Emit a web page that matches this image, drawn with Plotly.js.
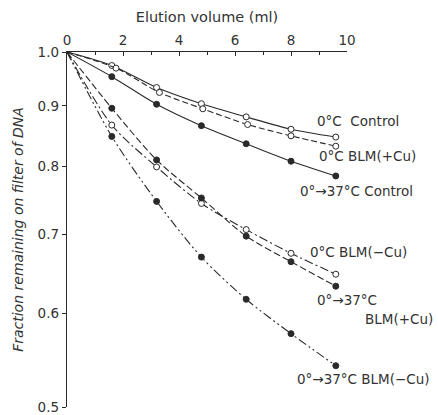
<!DOCTYPE html>
<html>
<head>
<meta charset="utf-8">
<script src="https://cdn.plot.ly/plotly-3.0.1.min.js"></script>
<style>html,body{margin:0;padding:0;background:#fff;}#chart{width:438px;height:415px;}</style>
</head>
<body>
<div id="chart"></div>
<script>
// Elution volumes (ml) at which fractions were measured
const volumes = [1.6, 3.2, 4.8, 6.4, 8.0, 9.6];
// Slightly offset positions for open circles of 0°C BLM(+Cu)
const volumesBLMCu0 = [1.75, 3.3, 4.85, 6.45, 8.0, 9.6];

// Fraction remaining on filter of DNA
const ctrl0      = [0.974, 0.933, 0.904, 0.881, 0.860, 0.847];
const blmCu0     = [0.969, 0.924, 0.895, 0.868, 0.849, 0.832];
const ctrl37     = [0.953, 0.903, 0.866, 0.836, 0.808, 0.785];
const blmNoCu0   = [0.867, 0.799, 0.744, 0.707, 0.675, 0.648];
const blmCu37    = [0.896, 0.810, 0.752, 0.698, 0.664, 0.633];
const blmNoCu37  = [0.848, 0.747, 0.670, 0.617, 0.577, 0.542];

const startX = 0, startY = 1.0;

const yTickVals = [0.5, 0.6, 0.7, 0.8, 0.9, 1.0];
const yTickText = ['0.5', '0.6', '0.7', '0.8', '0.9', '1.0'];
const xTickVals = [0, 2, 4, 6, 8, 10];

const ink = '#2a2a2a';
const series = [
  {x: volumes, y: ctrl0, dash: 'solid', open: true},
  {x: volumesBLMCu0, y: blmCu0, dash: '6px,3px', open: true},
  {x: volumes, y: ctrl37, dash: 'solid', open: false},
  {x: volumes, y: blmNoCu0, dash: '9px,3px,2px,3px', open: true},
  {x: volumes, y: blmCu37, dash: '7px,3px', open: false},
  {x: volumes, y: blmNoCu37, dash: '9px,3px,2px,3px,2px,3px', open: false}
];

const traces = [];
series.forEach(s => {
  traces.push({
    x: [startX].concat(s.x), y: [startY].concat(s.y),
    mode: 'lines', type: 'scatter', hoverinfo: 'skip',
    line: {color: ink, width: 1.1, dash: s.dash, shape: 'spline', smoothing: 0.8}
  });
  traces.push({
    x: s.x, y: s.y, mode: 'markers', type: 'scatter',
    marker: {symbol: 'circle', size: 6,
      color: s.open ? '#ffffff' : ink, line: {color: ink, width: 1}}
  });
});

const annFont = {family: 'DejaVu Sans, sans-serif', size: 13.5, color: '#333'};
function ann(text, x, y) {
  return {text: text, xref: 'paper', yref: 'paper', x: x, y: y,
    xanchor: 'left', yanchor: 'middle', showarrow: false, font: annFont};
}

const layout = {
  width: 438, height: 415,
  margin: {l: 67, r: 91, t: 52, b: 8},
  paper_bgcolor: '#fff', plot_bgcolor: '#fff',
  showlegend: false,
  xaxis: {
    side: 'top', range: [0, 10], tickvals: xTickVals,
    ticks: 'inside', ticklen: 4, tickcolor: ink, tickwidth: 1,
    minor: {dtick: 1, ticks: 'inside', ticklen: 3, tickcolor: ink},
    showline: true, linecolor: ink, linewidth: 1.2,
    showgrid: false, zeroline: false,
    tickfont: {family: 'DejaVu Sans, sans-serif', size: 13.5, color: '#333'},
    title: {text: 'Elution volume (ml)', standoff: 6,
      font: {family: 'DejaVu Sans, sans-serif', size: 14.5, color: '#333'}}
  },
  yaxis: {
    type: 'log', range: [Math.log10(0.5), 0],
    tickvals: yTickVals, ticktext: yTickText,
    ticks: 'outside', ticklen: 4, tickcolor: ink,
    showline: true, linecolor: ink, linewidth: 1.2,
    showgrid: false, zeroline: false,
    tickfont: {family: 'DejaVu Sans, sans-serif', size: 13.5, color: '#333'},
    title: {text: '<i>Fraction remaining on filter of DNA</i>', standoff: 10,
      font: {family: 'DejaVu Sans, sans-serif', size: 14, color: '#333'}}
  },
  annotations: [
    ann('0°C  Control', 0.886, 0.806),
    ann('0°C BLM(+Cu)', 0.893, 0.707),
    ann('0°→37°C Control', 0.825, 0.608),
    ann('0°C BLM(−Cu)', 0.861, 0.437),
    ann('0°→37°C', 0.886, 0.301),
    ann('BLM(+Cu)', 1.057, 0.248),
    ann('0°→37°C BLM(−Cu)', 0.814, 0.079)
  ]
};

Plotly.newPlot('chart', traces, layout, {staticPlot: true, displayModeBar: false});
</script>
</body>
</html>
